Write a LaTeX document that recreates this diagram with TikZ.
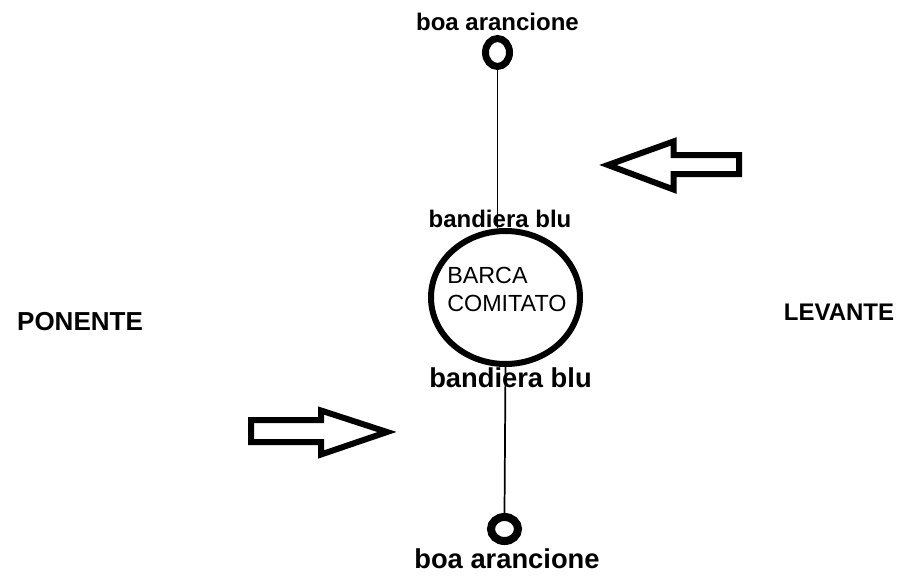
\documentclass[tikz,border=0pt]{standalone}
\usepackage{fontspec}
\setmainfont{Liberation Sans}
\usetikzlibrary{shapes.geometric}
\tikzset{
  lbl/.style={inner sep=0pt, anchor=base, font=\bfseries\fontsize{18}{20}\selectfont},
  biglbl/.style={inner sep=0pt, anchor=base, font=\bfseries\fontsize{20.5}{22}\selectfont},
  boattext/.style={inner sep=0pt, anchor=base west, font=\fontsize{17.5}{20}\selectfont},
  buoy/.style={draw, ellipse, inner sep=0pt},
  rope/.style={draw, line width=1.3pt},
  bigarrow/.style={draw, line width=4.5pt, line join=miter, miter limit=10}
}
\begin{document}
\begin{tikzpicture}[x=0.75pt, y=-0.75pt]
\useasboundingbox (0,0) rectangle (918,579);
% labels
\node[lbl] (topbuoylbl) at (497.5,30) {boa arancione};
\node[lbl] (topflag) at (500,227) {bandiera blu};
\node[biglbl] (botflag) at (510.5,387) {bandiera blu};
\node[biglbl] (botbuoylbl) at (507,568) {boa arancione};
\node[inner sep=0pt, anchor=base, font=\bfseries\fontsize{19.5}{22}\selectfont] (ponente) at (80,330) {PONENTE};
\node[lbl] (levante) at (839,320) {LEVANTE};
% boat
\node[draw, ellipse, inner sep=0pt, line width=4.5pt, minimum width=111.75pt, minimum height=99.75pt] (boat) at (505.5,297.5) {};
\node[boattext] (barca) at (447,283) {BARCA};
\node[boattext] (comitato) at (447,311) {COMITATO};
% buoys
\node[buoy, line width=5.25pt, minimum width=18pt, minimum height=21pt] (b1) at (497.5,52.5) {};
\node[buoy, line width=6pt, minimum width=20.25pt, minimum height=18pt] (b2) at (504.5,529) {};
% ropes
\draw[rope] (b1.south) -- (b1.south |- boat.north);
\draw[rope] (boat.south) -- (b2.north);
% wind arrows
\draw[bigarrow] (608,165) -- (673.5,141.5) -- (673.5,155) -- (739,155) -- (739,174) -- (673.5,174) -- (673.5,189.5) -- cycle;
\draw[bigarrow] (251,420) -- (321,420) -- (321,410.5) -- (387,432) -- (321,454.5) -- (321,442) -- (251,442) -- cycle;
\end{tikzpicture}
\end{document}
